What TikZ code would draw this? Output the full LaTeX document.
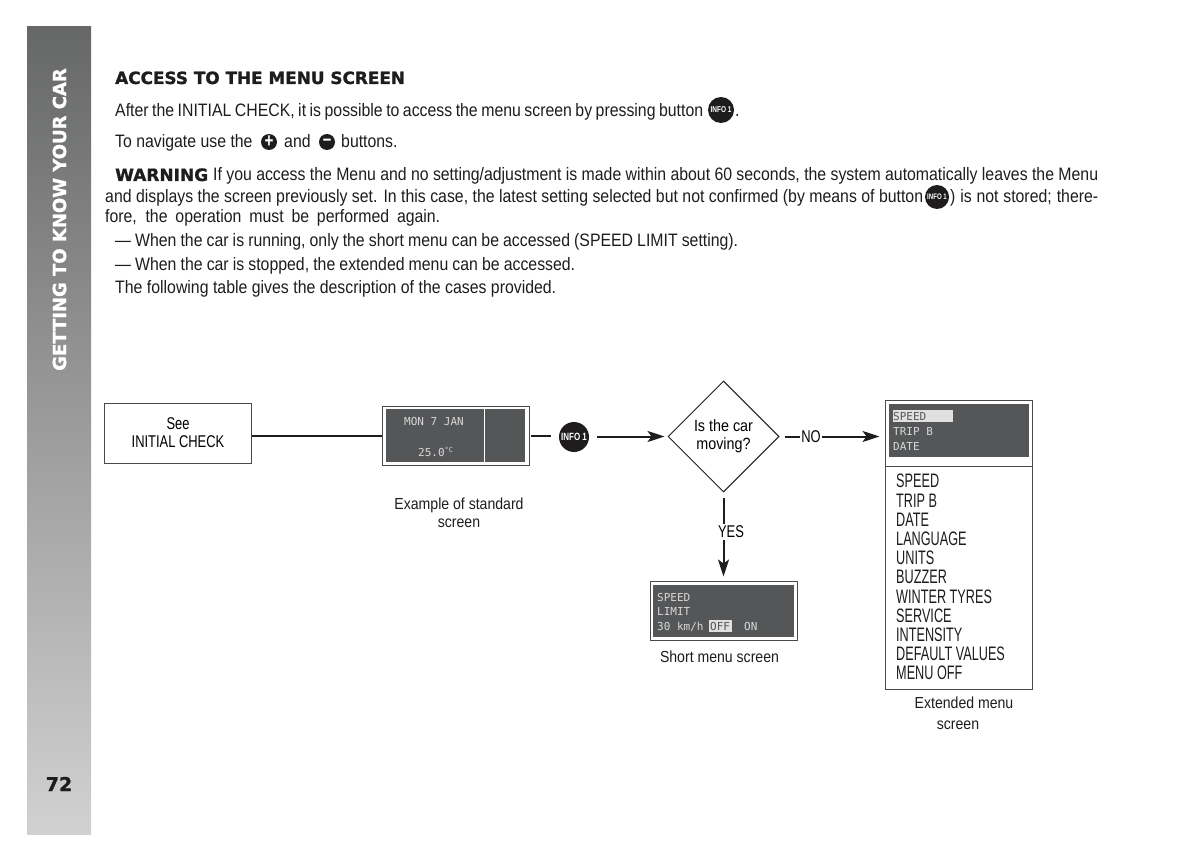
\documentclass[tikz,border=0pt]{standalone}
\usepackage{fontspec}
\usetikzlibrary{shapes.geometric, arrows.meta}
\setmainfont[FakeStretch=0.88]{Liberation Sans}
\newfontfamily\capsfont[FakeStretch=0.76]{Liberation Sans}
\newfontfamily\listfont[FakeStretch=0.65]{Liberation Sans}
\newfontfamily\headfont[BoldFeatures={FakeBold=1.2}]{DejaVu Sans}
\newfontfamily\lcdfont{DejaVu Sans Mono}
\definecolor{lcdgray}{HTML}{555657}
\definecolor{lcdtext}{HTML}{D8D8D8}
\definecolor{inkblack}{HTML}{1E1C1D}
\tikzset{
  textline/.style={anchor=base west, inner sep=0pt, font=\fontsize{18}{20}\selectfont, text=inkblack},
  chartbox/.style={draw=inkblack!80, line width=1pt, fill=white, inner sep=0pt},
  lcdscreen/.style={fill=lcdgray, inner sep=0pt},
  lcdline/.style={anchor=base west, inner sep=0pt, text=lcdtext, font=\lcdfont\fontsize{11}{13}\selectfont},
  caption/.style={inner sep=0pt, align=center, text=inkblack, font=\fontsize{16}{18}\selectfont},
  flowline/.style={draw=inkblack, line width=2pt},
  flowarrow/.style={flowline, -{Stealth[length=17pt, width=11pt, inset=4pt]}},
  infobtn/.style={circle, fill=inkblack, text=white, inner sep=0pt, minimum size=#1},
  signbtn/.style={circle, fill=inkblack, text=white, inner sep=0pt, minimum size=16pt, font=\capsfont\bfseries\fontsize{20}{20}\selectfont}
}
\begin{document}
\begin{tikzpicture}[x=1pt, y=-1pt]
  \useasboundingbox (0,0) rectangle (1200,861);

  \node[shade, top color=lcdgray!90, bottom color=black!18, minimum width=64pt, minimum height=807pt, inner sep=0pt] (sidebar) at (59,430.5) {};
  \node[rotate=90, inner sep=0pt, text=white, font=\headfont\bfseries\fontsize{18}{18}\selectfont] (chapter) at (59.5,219.5) {GETTING TO KNOW YOUR CAR};
  \node[inner sep=0pt, text=inkblack, font=\headfont\bfseries\fontsize{19}{24}\selectfont] (pageno) at (59,784) {72};

  \node[textline, font=\headfont\bfseries\fontsize{16.85}{18}\selectfont] (title) at (115,84) {ACCESS TO THE MENU SCREEN};
  \node[textline] (intro) at (115,117) {\makebox[588pt][s]{After the INITIAL CHECK, it is possible to access the menu screen by pressing button}};
  \node[infobtn=26pt, font=\capsfont\bfseries\fontsize{8.5}{8}\selectfont] (infoa) at (721,110) {INFO 1};
  \node[textline] (introdot) at (735,117) {.};
  \node[textline] (nava) at (115,148) {To navigate use the};
  \node[signbtn] (plus) at (269,142) {+};
  \node[textline] (navb) at (284,148) {and};
  \node[signbtn] (minus) at (327,142) {\char"2013};
  \node[textline] (navc) at (341,148) {buttons.};
  \node[textline, font=\headfont\bfseries\fontsize{17}{20}\selectfont] (warnhead) at (115,181) {WARNING};
  \node[textline] (warna) at (213,181) {\makebox[885pt][s]{If you access the Menu and no setting/adjustment is made within about 60 seconds, the system automatically leaves the Menu}};
  \node[textline] (warnb) at (105,203) {\makebox[818pt][s]{and displays the screen previously set. In this case, the latest setting selected but not confirmed (by means of button}};
  \node[infobtn=24pt, font=\capsfont\bfseries\fontsize{8}{8}\selectfont] (infob) at (937,197) {INFO 1};
  \node[textline] (warnc) at (950,203) {\makebox[148pt][s]{) is not stored; there-}};
  \node[textline] (warnd) at (105,223) {\makebox[335pt][s]{fore, the operation must be performed again.}};
  \node[textline] (running) at (115,247) {\makebox[623pt][s]{--- When the car is running, only the short menu can be accessed (SPEED LIMIT setting).}};
  \node[textline] (stopped) at (115,271) {\makebox[460pt][s]{--- When the car is stopped, the extended menu can be accessed.}};
  \node[textline] (following) at (115,294) {\makebox[441pt][s]{The following table gives the description of the cases provided.}};

  \node[chartbox, minimum width=147pt, minimum height=60pt, align=center, font=\capsfont\fontsize{17}{18}\selectfont] (see) at (178,433) {See\\INITIAL CHECK};

  \node[chartbox, minimum width=147pt, minimum height=59pt] (standard) at (455.5,435.5) {};
  \node[lcdscreen, minimum width=139pt, minimum height=53pt] (standardlcd) at (455.5,435.5) {};
  \draw[white, line width=1pt] (484,409) -- (484,462);
  \node[lcdline] (lcddate) at (404,425) {MON 7 JAN};
  \node[lcdline] (lcdtemp) at (418,456) {25.0\raisebox{4pt}{\fontsize{7}{7}\selectfont\textdegree C}};
  \node[caption] (standardcap) at (459,513) {Example of standard\\screen};

  \node[infobtn=30pt, font=\capsfont\bfseries\fontsize{10.5}{10}\selectfont] (info) at (574,437) {INFO 1};
  \node[diamond, draw=inkblack, line width=1pt, minimum width=111pt, minimum height=111pt, inner sep=0pt, align=center, font=\fontsize{16.3}{18}\selectfont] (moving) at (723.5,436.5) {Is the car\\moving?};
  \node[inner sep=0pt, font=\capsfont\fontsize{17}{18}\selectfont] (no) at (811,436.5) {NO};
  \node[inner sep=0pt, font=\capsfont\fontsize{17}{18}\selectfont] (yes) at (731,532) {YES};

  \node[chartbox, minimum width=147pt, minimum height=59pt] (short) at (723.5,610.5) {};
  \node[lcdscreen, minimum width=141pt, minimum height=52pt] (shortlcd) at (723.5,611) {};
  \node[lcdline] (shorta) at (657,601) {SPEED};
  \node[lcdline] (shortb) at (657,615) {LIMIT};
  \node[fill=lcdtext!80, minimum width=23pt, minimum height=12pt, inner sep=0pt] (offmark) at (720.5,626) {};
  \node[lcdline] (shortc) at (657,630) {30 km/h};
  \node[lcdline, text=lcdgray] (shortoff) at (710,630) {OFF};
  \node[lcdline] (shorton) at (744,630) {ON};
  \node[caption] (shortcap) at (719.5,657) {Short menu screen};

  \node[chartbox, minimum width=147pt, minimum height=66pt] (extended) at (958.5,433) {};
  \node[lcdscreen, minimum width=140pt, minimum height=53pt] (extendedlcd) at (959,430.5) {};
  \node[fill=lcdtext!80, minimum width=60pt, minimum height=12pt, inner sep=0pt] (speedmark) at (923,416) {};
  \node[lcdline, text=lcdgray] (exta) at (893,420) {SPEED};
  \node[lcdline] (extb) at (893,435) {TRIP B};
  \node[lcdline] (extc) at (893,450) {DATE};
  \node[chartbox, minimum width=147pt, minimum height=223pt] (menubox) at (958.5,577.5) {};
  \node[anchor=north west, inner sep=0pt, align=left, text=inkblack, font=\listfont\fontsize{19.5}{19.2}\selectfont] (menulist) at (896,474) {SPEED\\TRIP B\\DATE\\LANGUAGE\\UNITS\\BUZZER\\WINTER TYRES\\SERVICE\\INTENSITY\\DEFAULT VALUES\\MENU OFF};
  \node[caption, anchor=north] (extendedcap) at (964,697) {Extended menu\\[3pt]\hspace*{-12pt}screen};

  \draw[flowline] (standard -| see.east) -- (standard);
  \draw[flowline, shorten <=1pt, shorten >=8pt] (standard) -- (standard -| info.west);
  \draw[flowarrow, shorten <=8pt, shorten >=3pt] (info.east |- moving) -- (moving);
  \draw[flowline, shorten <=5pt, shorten >=1pt] (moving) -- (no);
  \draw[flowarrow, shorten <=1pt, shorten >=5pt] (no) -- (no -| extended.west);
  \draw[flowline, shorten <=5pt, shorten >=2pt] (moving) -- (moving |- yes.north);
  \draw[flowarrow, shorten <=2pt, shorten >=4pt] (moving |- yes.south) -- (short);
\end{tikzpicture}
\end{document}
